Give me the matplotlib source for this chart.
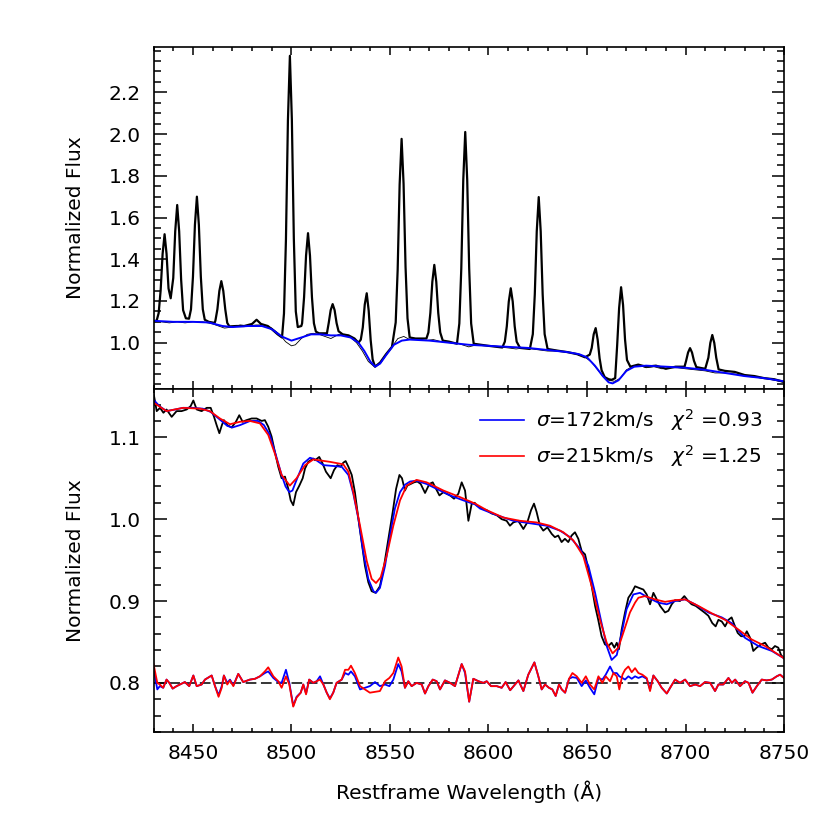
import matplotlib
matplotlib.use('Agg')
import matplotlib.pyplot as plt
from matplotlib.ticker import MultipleLocator
from matplotlib.lines import Line2D

# top panel: observed spectrum (with sky lines), cleaned spectrum, template fit
top_wave = [8430.0, 8431.6, 8432.6, 8433.6, 8434.6, 8435.6, 8436.6, 8437.6, 8438.7, 8440.0,
            8441.0, 8442.0, 8443.0, 8444.0, 8445.0, 8446.4, 8448.0, 8449.0, 8450.0, 8451.0,
            8452.0, 8453.0, 8454.0, 8455.0, 8456.0, 8458.0, 8461.0, 8461.4, 8462.4, 8463.4,
            8464.4, 8465.4, 8466.4, 8467.4, 8468.5, 8472.0, 8476.0, 8480.0, 8482.3, 8484.5,
            8488.0, 8490.0, 8493.0, 8495.2, 8496.2, 8497.2, 8498.2, 8499.2, 8500.2, 8501.2,
            8502.2, 8503.2, 8505.0, 8505.4, 8506.4, 8507.4, 8508.4, 8509.4, 8510.4, 8511.4,
            8512.4, 8514.0, 8518.0, 8518.9, 8519.9, 8520.9, 8521.9, 8522.9, 8523.9, 8526.0,
            8529.0, 8532.0, 8534.0, 8535.2, 8536.2, 8537.2, 8538.2, 8539.2, 8540.2, 8541.2,
            8542.4, 8545.0, 8548.0, 8551.0, 8552.9, 8553.9, 8554.9, 8555.9, 8556.9, 8557.9,
            8558.9, 8560.0, 8563.0, 8568.5, 8569.5, 8570.5, 8571.5, 8572.5, 8573.5, 8574.5,
            8575.5, 8576.8, 8580.0, 8584.0, 8585.2, 8586.2, 8587.2, 8588.2, 8589.2, 8590.2,
            8591.2, 8592.5, 8600.0, 8607.0, 8608.3, 8609.3, 8610.3, 8611.3, 8612.3, 8613.3,
            8614.3, 8616.0, 8621.0, 8622.5, 8623.5, 8624.5, 8625.5, 8626.5, 8627.5, 8628.5,
            8630.0, 8635.0, 8640.0, 8645.0, 8649.0, 8651.4, 8652.4, 8653.4, 8654.4, 8655.4,
            8656.4, 8657.4, 8659.0, 8661.0, 8662.5, 8664.3, 8665.3, 8666.3, 8667.3, 8668.3,
            8669.3, 8670.3, 8672.0, 8676.0, 8680.0, 8685.0, 8690.0, 8695.0, 8699.5, 8700.3,
            8701.3, 8702.3, 8703.3, 8704.3, 8705.5, 8710.0, 8711.6, 8712.6, 8713.6, 8714.6,
            8715.6, 8716.8, 8720.0, 8725.0, 8730.0, 8735.0, 8740.0, 8745.0, 8750.0]
top_obs = [1.100, 1.107, 1.142, 1.251, 1.426, 1.520, 1.426, 1.260, 1.213, 1.310,
           1.534, 1.660, 1.534, 1.302, 1.156, 1.117, 1.115, 1.160, 1.316, 1.565,
           1.700, 1.565, 1.316, 1.160, 1.110, 1.100, 1.095, 1.106, 1.160, 1.248,
           1.295, 1.248, 1.160, 1.095, 1.078, 1.080, 1.080, 1.090, 1.110, 1.090,
           1.080, 1.065, 1.040, 1.025, 1.140, 1.495, 2.065, 2.375, 2.070, 1.500,
           1.150, 1.075, 1.080, 1.093, 1.218, 1.417, 1.525, 1.417, 1.218, 1.093,
           1.053, 1.045, 1.045, 1.094, 1.156, 1.185, 1.156, 1.094, 1.055, 1.040,
           1.035, 1.020, 1.000, 1.015, 1.073, 1.183, 1.237, 1.153, 1.013, 0.920,
           0.885, 0.905, 0.945, 0.980, 1.097, 1.349, 1.757, 1.977, 1.762, 1.364,
           1.117, 1.025, 1.020, 1.020, 1.049, 1.143, 1.292, 1.373, 1.292, 1.143,
           1.049, 1.010, 1.005, 0.995, 1.092, 1.357, 1.780, 2.010, 1.780, 1.357,
           1.092, 0.995, 0.985, 0.977, 1.005, 1.079, 1.197, 1.261, 1.197, 1.079,
           1.005, 0.975, 0.970, 1.041, 1.231, 1.534, 1.698, 1.534, 1.231, 1.041,
           0.970, 0.962, 0.955, 0.945, 0.930, 0.943, 0.975, 1.040, 1.070, 1.015,
           0.925, 0.868, 0.835, 0.825, 0.822, 0.830, 0.986, 1.166, 1.266, 1.181,
           1.016, 0.917, 0.885, 0.895, 0.885, 0.890, 0.875, 0.885, 0.885, 0.913,
           0.953, 0.974, 0.953, 0.913, 0.883, 0.875, 0.928, 0.999, 1.037, 0.999,
           0.928, 0.872, 0.865, 0.860, 0.845, 0.840, 0.830, 0.825, 0.812]

clean_wave = [8430, 8434, 8438, 8442, 8446, 8450, 8455, 8460, 8463, 8466, 8470, 8474, 8478,
              8482, 8486, 8490, 8494, 8497, 8500, 8502, 8505, 8508, 8511, 8514, 8517, 8520,
              8524, 8527, 8530, 8533, 8536, 8539, 8542, 8545, 8548, 8551, 8554, 8557, 8560,
              8564, 8568, 8572, 8576, 8580, 8585, 8590, 8594, 8600, 8605, 8610, 8614, 8618,
              8622, 8626, 8630, 8635, 8640, 8645, 8649, 8652, 8655, 8658, 8661, 8664, 8667,
              8670, 8673, 8677, 8680, 8684, 8688, 8692, 8696, 8700, 8705, 8710, 8715, 8720,
              8725, 8730, 8735, 8740, 8745, 8750]
clean_flux = [1.10, 1.10, 1.095, 1.10, 1.095, 1.10, 1.10, 1.09, 1.08, 1.07, 1.075, 1.085, 1.08,
              1.085, 1.085, 1.07, 1.04, 1.005, 0.985, 0.99, 1.02, 1.04, 1.045, 1.04, 1.03, 1.02,
              1.04, 1.04, 1.025, 1.0, 0.96, 0.91, 0.885, 0.90, 0.94, 0.98, 1.02, 1.03, 1.015,
              1.02, 1.01, 1.015, 1.005, 1.0, 0.995, 0.98, 0.99, 0.985, 0.98, 0.975, 0.97, 0.975,
              0.97, 0.965, 0.96, 0.96, 0.955, 0.945, 0.93, 0.91, 0.875, 0.84, 0.82, 0.815, 0.83,
              0.87, 0.885, 0.89, 0.88, 0.885, 0.875, 0.88, 0.88, 0.875, 0.87, 0.865, 0.855, 0.855,
              0.85, 0.84, 0.835, 0.83, 0.82, 0.81]

tfit_wave = [8430, 8440, 8450, 8458, 8465, 8470, 8478, 8485, 8490, 8495, 8500, 8505, 8510,
             8515, 8520, 8525, 8530, 8534, 8537, 8540, 8542.5, 8545, 8548, 8552, 8556, 8560,
             8570, 8580, 8590, 8600, 8610, 8620, 8630, 8640, 8646, 8650, 8654, 8658, 8661,
             8663, 8666, 8670, 8674, 8680, 8690, 8700, 8710, 8720, 8730, 8740, 8750]
tfit_flux = [1.105, 1.10, 1.10, 1.097, 1.08, 1.075, 1.08, 1.08, 1.065, 1.03, 1.01, 1.025, 1.04,
             1.04, 1.035, 1.035, 1.025, 1.0, 0.96, 0.91, 0.885, 0.90, 0.94, 0.99, 1.01, 1.015,
             1.01, 1.0, 0.99, 0.985, 0.98, 0.975, 0.965, 0.955, 0.945, 0.93, 0.89, 0.84, 0.81,
             0.805, 0.82, 0.865, 0.885, 0.89, 0.885, 0.88, 0.87, 0.855, 0.84, 0.83, 0.815]

# bottom panel: cleaned spectrum and two fits
obs_wave = [8430.0, 8431.6, 8433.3, 8435.0, 8436.6, 8439.2, 8441.7, 8444.2, 8446.8, 8448.8,
            8450.2, 8451.9, 8454.4, 8457.0, 8459.0, 8460.7, 8462.0, 8463.4, 8464.7, 8465.7,
            8467.4, 8469.6, 8471.8, 8473.5, 8475.2, 8477.2, 8479.8, 8482.3, 8484.9, 8486.5,
            8488.2, 8489.9, 8491.6, 8493.3, 8495.0, 8496.7, 8498.4, 8499.6, 8500.9, 8502.3,
            8504.0, 8505.7, 8506.9, 8508.5, 8511.1, 8512.0, 8514.1, 8515.8, 8517.5, 8519.9,
            8521.6, 8523.3, 8525.0, 8526.3, 8527.5, 8528.9, 8530.6, 8532.2, 8534.0, 8535.6,
            8537.3, 8539.0, 8540.7, 8542.7, 8544.9, 8547.0, 8549.2, 8551.4, 8553.1, 8554.8,
            8556.1, 8557.6, 8558.8, 8560.5, 8562.2, 8563.9, 8565.6, 8567.8, 8570.0, 8571.7,
            8573.4, 8575.1, 8577.1, 8578.8, 8580.5, 8582.5, 8584.7, 8586.4, 8588.1, 8589.8,
            8591.5, 8593.0, 8594.0, 8596.5, 8599.1, 8601.6, 8604.1, 8606.7, 8609.2, 8610.9,
            8612.6, 8615.1, 8617.7, 8619.7, 8621.6, 8623.1, 8624.4, 8626.1, 8627.8, 8629.9,
            8632.1, 8633.7, 8635.4, 8637.1, 8638.8, 8640.5, 8642.2, 8643.9, 8645.6, 8647.3,
            8649.0, 8650.7, 8652.4, 8654.1, 8655.7, 8657.4, 8659.1, 8660.8, 8662.5, 8663.9,
            8665.1, 8666.2, 8667.6, 8669.3, 8671.0, 8672.7, 8674.4, 8676.4, 8678.6, 8680.3,
            8682.0, 8683.7, 8685.4, 8687.1, 8689.6, 8691.3, 8693.0, 8694.7, 8697.2, 8699.4,
            8701.4, 8703.1, 8705.2, 8707.4, 8709.6, 8711.6, 8713.6, 8715.3, 8716.7, 8718.4,
            8720.1, 8721.8, 8723.4, 8724.8, 8726.5, 8728.2, 8729.9, 8731.1, 8732.8, 8734.4,
            8736.1, 8738.3, 8740.4, 8742.1, 8743.8, 8745.4, 8747.1, 8748.5, 8750.0]
obs_flux = [1.154, 1.132, 1.136, 1.130, 1.134, 1.125, 1.132, 1.132, 1.134, 1.138,
            1.145, 1.134, 1.132, 1.136, 1.136, 1.125, 1.115, 1.105, 1.115, 1.121,
            1.115, 1.112, 1.119, 1.127, 1.119, 1.121, 1.123, 1.123, 1.120, 1.121,
            1.113, 1.101, 1.082, 1.064, 1.050, 1.052, 1.037, 1.023, 1.017, 1.033,
            1.041, 1.050, 1.062, 1.070, 1.074, 1.072, 1.076, 1.068, 1.058, 1.050,
            1.060, 1.066, 1.064, 1.069, 1.071, 1.064, 1.054, 1.033, 1.000, 0.972,
            0.943, 0.923, 0.912, 0.910, 0.918, 0.943, 0.976, 1.009, 1.037, 1.054,
            1.050, 1.035, 1.041, 1.043, 1.045, 1.046, 1.043, 1.032, 1.043, 1.045,
            1.037, 1.029, 1.033, 1.031, 1.029, 1.025, 1.031, 1.045, 1.035, 0.998,
            1.019, 1.020, 1.017, 1.013, 1.011, 1.007, 1.005, 1.000, 0.998, 0.992,
            0.996, 0.998, 0.988, 0.996, 1.011, 1.019, 1.009, 0.992, 0.986, 0.990,
            0.982, 0.978, 0.980, 0.972, 0.976, 0.972, 0.980, 0.984, 0.976, 0.961,
            0.957, 0.939, 0.918, 0.894, 0.877, 0.857, 0.847, 0.845, 0.849, 0.843,
            0.849, 0.841, 0.865, 0.886, 0.904, 0.910, 0.918, 0.916, 0.914, 0.908,
            0.896, 0.910, 0.902, 0.894, 0.886, 0.888, 0.896, 0.901, 0.900, 0.906,
            0.900, 0.896, 0.894, 0.890, 0.886, 0.882, 0.873, 0.869, 0.877, 0.875,
            0.869, 0.877, 0.880, 0.871, 0.861, 0.857, 0.857, 0.863, 0.855, 0.839,
            0.843, 0.847, 0.849, 0.843, 0.841, 0.845, 0.843, 0.834, 0.830]

fit172_wave = [8430, 8433, 8436.6, 8441, 8445, 8450, 8455, 8459, 8462, 8465, 8467.4, 8470,
               8474, 8479, 8483, 8486, 8489, 8492, 8495, 8497, 8498.9, 8500.5, 8502.6, 8506,
               8509.4, 8512, 8516.2, 8521.2, 8525.5, 8528.9, 8531.4, 8534, 8536.5, 8539,
               8541.6, 8542.9, 8544.9, 8547.5, 8550, 8552.5, 8555.1, 8557.6, 8560.2, 8563.5,
               8568.6, 8573.7, 8580.5, 8587.2, 8593.2, 8595.7, 8604.1, 8612.6, 8621, 8629.5,
               8636.3, 8641.4, 8646.4, 8650.7, 8654.1, 8657.4, 8660, 8662.5, 8665.1, 8667.6,
               8670.1, 8673.5, 8676.9, 8681.1, 8686.2, 8690.5, 8694.7, 8699.8, 8704.8, 8711.6,
               8718.4, 8723.4, 8730.2, 8737, 8743.8, 8750]
fit172_flux = [1.146, 1.138, 1.132, 1.134, 1.136, 1.136, 1.135, 1.131, 1.125, 1.119, 1.114, 1.112,
               1.115, 1.120, 1.120, 1.115, 1.103, 1.079, 1.054, 1.040, 1.033, 1.035, 1.048, 1.068,
               1.075, 1.073, 1.066, 1.065, 1.064, 1.054, 1.031, 1.000, 0.959, 0.927,
               0.912, 0.910, 0.916, 0.943, 0.980, 1.013, 1.033, 1.042, 1.046, 1.047,
               1.043, 1.037, 1.029, 1.023, 1.018, 1.013, 1.005, 0.998, 0.995, 0.992,
               0.986, 0.978, 0.964, 0.943, 0.910, 0.873, 0.845, 0.828, 0.834, 0.861,
               0.890, 0.908, 0.910, 0.904, 0.898, 0.896, 0.900, 0.902, 0.896, 0.886,
               0.880, 0.873, 0.855, 0.845, 0.839, 0.830]

fit215_wave = [8430.2, 8436.6, 8445, 8453.6, 8458.6, 8463.7, 8468.8, 8473.9, 8478.9, 8484,
               8488.2, 8491.6, 8495, 8499.2, 8502.6, 8506.9, 8511.1, 8519.6, 8526.3, 8528.9,
               8531.4, 8534.8, 8538.2, 8540.7, 8542.9, 8545.3, 8548.3, 8551.7, 8555.1, 8558.5,
               8563.5, 8568.6, 8577.1, 8585.5, 8593.2, 8599.1, 8607.5, 8616, 8624.4, 8631.2,
               8638, 8643.1, 8648.1, 8652.4, 8656.6, 8660, 8663, 8665.9, 8668.4, 8671.8,
               8674.4, 8676.1, 8679.4, 8684.5, 8689.6, 8694.7, 8699.8, 8706.5, 8713.3, 8720.1,
               8726.9, 8733.6, 8740.4, 8750]
fit215_flux = [1.142, 1.132, 1.136, 1.135, 1.132, 1.123, 1.116, 1.119, 1.120, 1.117,
               1.103, 1.080, 1.054, 1.041, 1.050, 1.066, 1.073, 1.070, 1.067, 1.058,
               1.033, 0.992, 0.949, 0.927, 0.922, 0.929, 0.955, 0.992, 1.023, 1.041,
               1.048, 1.045, 1.035, 1.027, 1.019, 1.011, 1.002, 0.998, 0.996, 0.992,
               0.984, 0.974, 0.955, 0.918, 0.877, 0.849, 0.836, 0.843, 0.861, 0.886,
               0.898, 0.904, 0.906, 0.902, 0.899, 0.901, 0.902, 0.894, 0.885, 0.877,
               0.865, 0.853, 0.845, 0.830]

# residuals, offset to 0.8
res_wave = [8430.0, 8431.9, 8433.2, 8434.9, 8436.6, 8438.0, 8439.7, 8441.7, 8444.2, 8445.9,
            8448.1, 8450.2, 8451.9, 8454.4, 8456.1, 8459.5, 8461.2, 8463.0, 8464.6, 8465.7,
            8467.4, 8468.8, 8470.5, 8473.0, 8475.5, 8478.9, 8481.5, 8484.0, 8486.5, 8488.2,
            8490.8, 8493.3, 8495.0, 8497.2, 8498.9, 8500.9, 8502.6, 8504.7, 8506.0, 8507.4,
            8509.0, 8511.1, 8512.8, 8514.5, 8516.2, 8517.9, 8519.5, 8521.2, 8522.9, 8525.5,
            8527.2, 8528.9, 8530.2, 8532.2, 8534.8, 8537.3, 8539.8, 8542.4, 8544.9, 8547.5,
            8549.7, 8551.7, 8554.2, 8555.9, 8557.6, 8559.3, 8561.0, 8563.5, 8566.1, 8567.8,
            8569.5, 8571.7, 8573.7, 8575.4, 8577.9, 8580.5, 8583.0, 8586.4, 8588.1, 8590.2,
            8592.3, 8594.9, 8597.4, 8599.1, 8601.3, 8604.2, 8606.7, 8608.7, 8611.0, 8613.1,
            8615.2, 8617.7, 8620.2, 8623.3, 8625.3, 8627.0, 8628.7, 8630.7, 8632.4, 8634.1,
            8635.8, 8637.2, 8638.9, 8640.9, 8642.6, 8644.8, 8647.3, 8649.4, 8651.5, 8653.7,
            8655.8, 8657.8, 8659.5, 8661.7, 8663.4, 8665.1, 8666.4, 8668.0, 8669.3, 8671.0,
            8672.7, 8674.4, 8676.1, 8678.1, 8680.3, 8682.0, 8683.7, 8685.9, 8687.9, 8690.5,
            8692.2, 8694.7, 8697.2, 8699.8, 8702.3, 8704.9, 8707.4, 8709.9, 8712.5, 8715.0,
            8716.7, 8719.2, 8721.8, 8723.5, 8725.2, 8727.7, 8730.2, 8732.0, 8734.0, 8736.2,
            8738.7, 8741.2, 8743.8, 8746.3, 8748.0, 8750.0]
res172 = [0.818, 0.792, 0.796, 0.794, 0.804, 0.800, 0.793, 0.796, 0.799, 0.801,
          0.796, 0.809, 0.796, 0.798, 0.804, 0.809, 0.796, 0.785, 0.796, 0.809,
          0.800, 0.804, 0.797, 0.811, 0.801, 0.804, 0.805, 0.808, 0.812, 0.814,
          0.806, 0.801, 0.800, 0.816, 0.800, 0.772, 0.783, 0.788, 0.798, 0.787,
          0.804, 0.800, 0.802, 0.808, 0.798, 0.788, 0.781, 0.788, 0.800, 0.804,
          0.812, 0.810, 0.814, 0.808, 0.792, 0.794, 0.796, 0.801, 0.796, 0.798,
          0.796, 0.804, 0.823, 0.814, 0.794, 0.802, 0.796, 0.800, 0.798, 0.787,
          0.796, 0.804, 0.802, 0.792, 0.803, 0.800, 0.796, 0.823, 0.812, 0.777,
          0.805, 0.802, 0.800, 0.802, 0.796, 0.796, 0.794, 0.801, 0.791, 0.797,
          0.803, 0.790, 0.810, 0.825, 0.808, 0.792, 0.798, 0.794, 0.792, 0.784,
          0.798, 0.792, 0.788, 0.805, 0.807, 0.806, 0.796, 0.803, 0.794, 0.786,
          0.806, 0.804, 0.810, 0.820, 0.812, 0.812, 0.808, 0.806, 0.804, 0.808,
          0.805, 0.808, 0.806, 0.808, 0.805, 0.792, 0.809, 0.802, 0.794, 0.787,
          0.794, 0.804, 0.800, 0.804, 0.796, 0.798, 0.796, 0.801, 0.800, 0.790,
          0.798, 0.798, 0.806, 0.800, 0.804, 0.796, 0.802, 0.800, 0.788, 0.796,
          0.804, 0.803, 0.804, 0.808, 0.810, 0.806]
res215 = [0.823, 0.800, 0.798, 0.794, 0.804, 0.800, 0.793, 0.796, 0.799, 0.801,
          0.796, 0.809, 0.796, 0.798, 0.804, 0.809, 0.796, 0.783, 0.794, 0.809,
          0.798, 0.803, 0.796, 0.811, 0.801, 0.804, 0.805, 0.808, 0.814, 0.819,
          0.808, 0.802, 0.794, 0.808, 0.798, 0.771, 0.782, 0.788, 0.798, 0.786,
          0.804, 0.800, 0.802, 0.804, 0.798, 0.788, 0.780, 0.788, 0.800, 0.804,
          0.816, 0.816, 0.821, 0.812, 0.796, 0.792, 0.788, 0.789, 0.790, 0.802,
          0.806, 0.812, 0.831, 0.820, 0.794, 0.802, 0.796, 0.800, 0.798, 0.787,
          0.796, 0.804, 0.802, 0.792, 0.803, 0.800, 0.796, 0.823, 0.814, 0.777,
          0.805, 0.802, 0.800, 0.802, 0.796, 0.796, 0.794, 0.801, 0.791, 0.797,
          0.803, 0.790, 0.810, 0.825, 0.808, 0.792, 0.798, 0.794, 0.792, 0.784,
          0.798, 0.792, 0.788, 0.805, 0.812, 0.808, 0.800, 0.808, 0.798, 0.792,
          0.808, 0.800, 0.808, 0.802, 0.812, 0.808, 0.792, 0.810, 0.816, 0.820,
          0.813, 0.818, 0.812, 0.810, 0.806, 0.790, 0.809, 0.802, 0.794, 0.787,
          0.794, 0.804, 0.800, 0.804, 0.796, 0.798, 0.796, 0.801, 0.800, 0.790,
          0.798, 0.798, 0.806, 0.800, 0.804, 0.796, 0.802, 0.800, 0.788, 0.796,
          0.804, 0.803, 0.804, 0.808, 0.810, 0.806]

labels = ['$\\sigma$=172km/s   $\\chi^2$ =0.93', '$\\sigma$=215km/s   $\\chi^2$ =1.25']
blue = '#0000ff'
red = '#ff0000'

plt.rcParams['font.family'] = 'DejaVu Sans'
plt.rcParams['font.size'] = 14.5

fig = plt.figure(figsize=(8.3, 8.3), dpi=100)
ax1 = fig.add_axes([0.185, 0.5313, 0.7596, 0.412])
ax2 = fig.add_axes([0.185, 0.1181, 0.7596, 0.4132], sharex=ax1)

ax1.plot(top_wave, top_obs, color='black', lw=1.6)
ax1.plot(clean_wave, clean_flux, color='black', lw=0.6)
ax1.plot(tfit_wave, tfit_flux, color=blue, lw=1.4)
ax1.set_ylim(0.778, 2.417)
ax1.yaxis.set_minor_locator(MultipleLocator(0.05))
ax1.set_yticks([1.0, 1.2, 1.4, 1.6, 1.8, 2.0, 2.2])
ax1.set_ylabel('Normalized Flux', labelpad=17)
plt.setp(ax1.get_xticklabels(), visible=False)

ax2.plot(obs_wave, obs_flux, color='black', lw=1.3)
ax2.plot(fit172_wave, fit172_flux, color=blue, lw=1.3)
ax2.plot(fit215_wave, fit215_flux, color=red, lw=1.3)
ax2.axhline(0.8, color='black', lw=1.1, dashes=(7, 3))
ax2.plot(res_wave, res172, color=blue, lw=1.3)
ax2.plot(res_wave, res215, color=red, lw=1.3)
ax2.set_ylim(0.740, 1.159)
ax2.yaxis.set_major_locator(MultipleLocator(0.1))
ax2.yaxis.set_minor_locator(MultipleLocator(0.02))
ax2.set_ylabel('Normalized Flux', labelpad=17)
ax2.set_xlabel('Restframe Wavelength (Å)', labelpad=12)

ax2.set_xlim(8430, 8750)
ax2.xaxis.set_major_locator(MultipleLocator(50))
ax2.xaxis.set_minor_locator(MultipleLocator(10))

for ax in (ax1, ax2):
    for s in ax.spines.values():
        s.set_linewidth(1.2)
    ax.tick_params(which='both', direction='in', top=True, right=True, width=1.1)
    ax.tick_params(axis='y', which='major', length=9, pad=9)
    ax.tick_params(axis='y', which='minor', length=5)
    ax.tick_params(axis='x', which='major', length=6, pad=9)
    ax.tick_params(axis='x', which='minor', length=3)

handles = [Line2D([], [], color=blue, lw=1.2), Line2D([], [], color=red, lw=1.2)]
ax2.legend(handles, labels, loc='upper right', frameon=False, fontsize=14.5,
           handlelength=2.2, handletextpad=0.6, labelspacing=0.5,
           bbox_to_anchor=(0.995, 1.0))

fig.savefig('out.png', dpi=100)
